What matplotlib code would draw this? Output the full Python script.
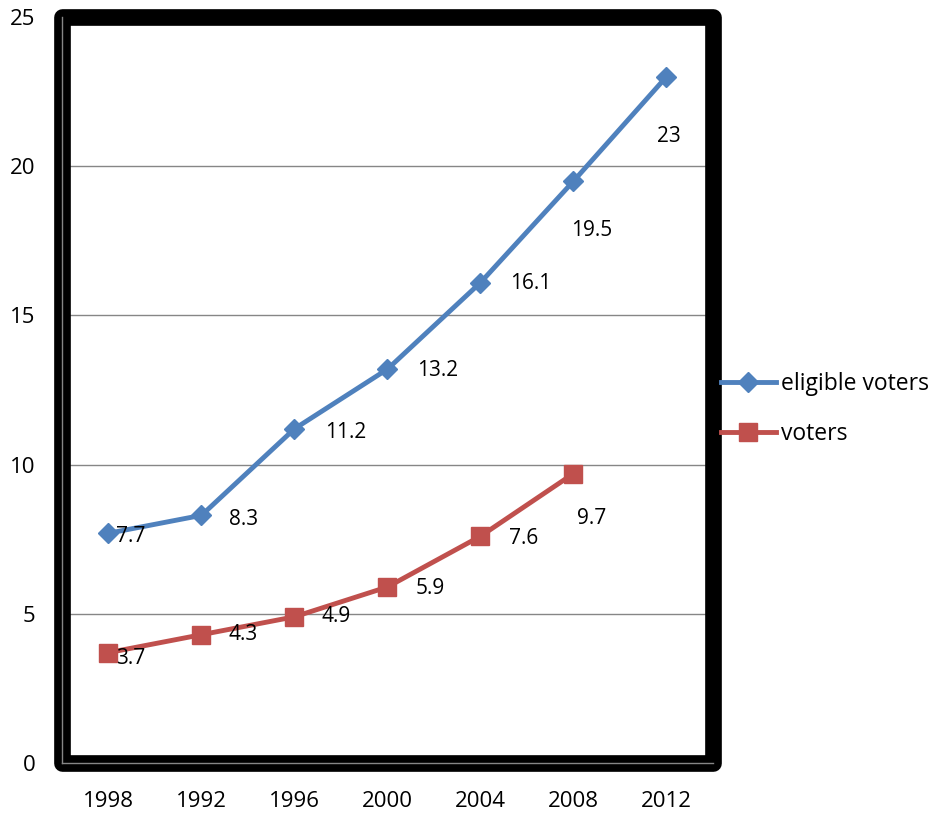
import numpy as np
import matplotlib.pyplot as plt
from matplotlib.patches import Rectangle

plt.rcParams['font.family'] = ['Open Sans', 'DejaVu Sans']

years = ['1998', '1992', '1996', '2000', '2004', '2008', '2012']
eligible = [7.7, 8.3, 11.2, 13.2, 16.1, 19.5, 23]
voters = [3.7, 4.3, 4.9, 5.9, 7.6, 9.7]

# label offsets in pixels (dx, dy)
elig_off = [(22, -3), (42, -4), (51, -4), (50, -1), (50, -1), (18, -49), (2, -60)]
vot_off = [(22, -6), (42, 0), (42, 0), (43, -2), (43, -2), (18, -45)]

fig = plt.figure(figsize=(9.37, 8.14), dpi=100)
ax = fig.add_axes([62/937, 1-763/814, 651/937, 746/814])

x = np.arange(len(years))
ax.plot(x, eligible, '-D', color='#4F81BD', linewidth=3.5, markersize=10,
        label='eligible voters', zorder=3)
ax.plot(x[:len(voters)], voters, '-s', color='#C0504D', linewidth=3.5, markersize=13,
        label='voters', zorder=3)

for xi, v, o in zip(x, eligible, elig_off):
    ax.annotate(f'{v:g}', (xi, v), xytext=o, textcoords='offset pixels',
                ha='center', va='center', fontsize=15)
for xi, v, o in zip(x, voters, vot_off):
    ax.annotate(f'{v:g}', (xi, v), xytext=o, textcoords='offset pixels',
                ha='center', va='center', fontsize=15)

ax.set_xlim(-0.5, 6.5)
ax.set_ylim(0, 25)
ax.set_xticks(x)
ax.set_xticklabels(years)
ax.set_yticks([0, 5, 10, 15, 20, 25])
ax.tick_params(length=0, labelsize=16)
ax.tick_params(axis='y', pad=19)
ax.tick_params(axis='x', pad=20)
ax.grid(axis='y', color='#868686', linewidth=1)
ax.set_axisbelow(True)
ax.spines['top'].set_visible(False)
ax.spines['right'].set_visible(False)
for s in ('left', 'bottom'):
    ax.spines[s].set_color('#868686')
    ax.spines[s].set_linewidth(1)
    ax.spines[s].set_zorder(6)

frame = Rectangle((0, 0), 1, 1, transform=ax.transAxes, fill=False,
                  edgecolor='black', linewidth=12, joinstyle='round',
                  clip_on=False, zorder=5)
ax.add_patch(frame)

fig.legend(loc='center left', bbox_to_anchor=(721/937, 1-409/814), frameon=False,
           fontsize=16.5, handlelength=2.4, handletextpad=0.2, labelspacing=1.15,
           borderpad=0, borderaxespad=0)

fig.savefig('out.png', dpi=100)
